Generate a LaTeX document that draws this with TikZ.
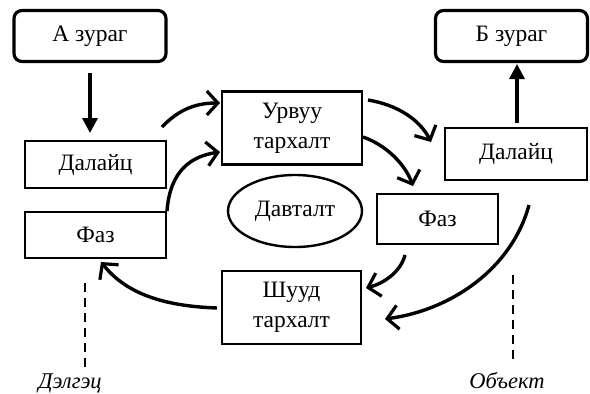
\documentclass[tikz,border=0pt]{standalone}
\usepackage{fontspec}
\setmainfont{Liberation Serif}
\usetikzlibrary{arrows.meta,shapes.geometric}
\tikzset{
  picbox/.style={draw,line width=3.2pt,rounded corners=8pt,minimum width=152pt,minimum height=51pt,font=\fontsize{23.5}{26}\selectfont,inner sep=0pt},
  blockbox/.style={draw,line width=2.6pt,font=\fontsize{23.5}{26}\selectfont,inner sep=0pt,align=center},
  loopell/.style={draw,ellipse,line width=2.4pt,minimum width=134pt,minimum height=72pt,inner sep=0pt,font=\fontsize{23.5}{26}\selectfont},
  curvearrow/.style={line width=3.4pt,-{Straight Barb[length=11pt,width=24pt,line width=3.2pt]}},
  vertarrow/.style={line width=3.4pt,-{Triangle[length=15pt,width=15pt]}},
  dashline/.style={line width=2.6pt,dash pattern=on 9pt off 6pt},
  caption/.style={font=\itshape\fontsize{22.5}{25}\selectfont,inner sep=0pt,anchor=base}
}
\begin{document}
\begin{tikzpicture}[x=1pt,y=-1pt]
\useasboundingbox (0,0) rectangle (590,394);
% nodes
\node[picbox] (az) at (90,36) {А зураг};
\node[picbox] (bz) at (511.5,36) {Б зураг};
\node[blockbox,minimum width=141pt,minimum height=47pt] (dl) at (95.5,164.5) {Далайц};
\node[blockbox,minimum width=141pt,minimum height=46pt] (fl) at (95.5,235) {Фаз};
\node[blockbox,minimum width=140pt,minimum height=73pt] (ur) at (292,128) {Урвуу\\[4pt]тархалт};
\node[blockbox,minimum width=142pt,minimum height=52pt] (dr) at (516,154) {Далайц};
\node[blockbox,minimum width=121pt,minimum height=50pt] (fr) at (437.5,219) {Фаз};
\node[blockbox,minimum width=139pt,minimum height=73pt] (sh) at (291.5,307.5) {Шууд\\[4pt]тархалт};
\node[loopell] (dv) at (295,211) {Давталт};
\node[caption] (de) at (70,388) {Дэлгэц};
\node[caption] (ob) at (507,388) {Объект};
% coordinates
\coordinate (a1s) at (90,73);
\coordinate (a1e) at (90,133);
\coordinate (a2s) at (517,123);
\coordinate (a2e) at (517,64);
\coordinate (c1s) at (162,127);
\coordinate (c1e) at (220,103);
\coordinate (c2s) at (167,211);
\coordinate (c2e) at (220,152);
\coordinate (c3s) at (368,100);
\coordinate (c3e) at (431,142);
\coordinate (c4s) at (363,137);
\coordinate (c4e) at (413,186);
\coordinate (c5s) at (405,255);
\coordinate (c5e) at (366,288);
\coordinate (c6s) at (529,205);
\coordinate (c6e) at (385,319);
\coordinate (c7s) at (217,308);
\coordinate (c7e) at (101,262);
\coordinate (dl1) at (85,283);
\coordinate (dl2) at (85,372);
\coordinate (dr1) at (513,275);
\coordinate (dr2) at (513,364);
% vertical arrows
\draw[vertarrow] (a1s) -- (a1e);
\draw[vertarrow] (a2s) -- (a2e);
% curved arrows
\draw[curvearrow] (c1s) .. controls (180,108) and (198,103) .. (c1e);
\draw[curvearrow] (c2s) .. controls (170,170) and (192,156) .. (c2e);
\draw[curvearrow] (c3s) .. controls (398,105) and (420,120) .. (c3e);
\draw[curvearrow] (c4s) .. controls (386,145) and (405,164) .. (c4e);
\draw[curvearrow] (c5s) .. controls (401,271) and (385,283) .. (c5e);
\draw[curvearrow] (c6s) .. controls (512,268) and (452,310) .. (c6e);
\draw[curvearrow] (c7s) .. controls (160,306) and (125,292) .. (c7e);
% dashed
\draw[dashline] (dl1) -- (dl2);
\draw[dashline] (dr1) -- (dr2);
\end{tikzpicture}
\end{document}
